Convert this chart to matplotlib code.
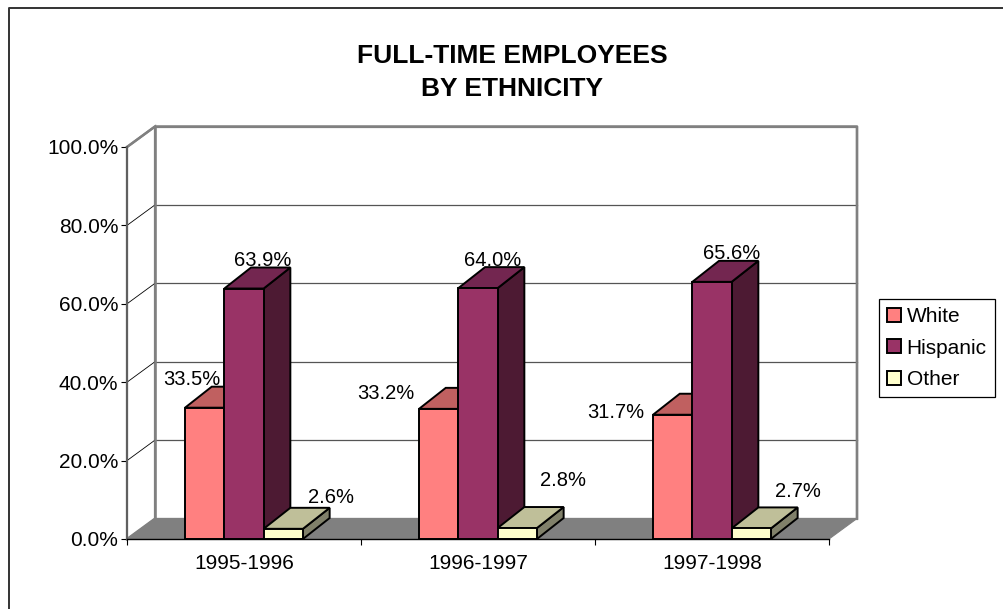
import matplotlib
matplotlib.use("Agg")
import matplotlib.pyplot as plt
from matplotlib.patches import Polygon, Rectangle, Patch
from matplotlib.lines import Line2D
from matplotlib.ticker import FixedLocator, NullFormatter, FixedFormatter

plt.rcParams['font.family'] = ['Liberation Sans', 'DejaVu Sans']

# ---------------- data ----------------
categories = ["1995-1996", "1996-1997", "1997-1998"]
series_names = ["White", "Hispanic", "Other"]
white = [33.5, 33.2, 31.7]
hispanic = [63.9, 64.0, 65.6]
other = [2.6, 2.8, 2.7]
y_ticks = [0, 20, 40, 60, 80, 100]
y_tick_labels = ["0.0%", "20.0%", "40.0%", "60.0%", "80.0%", "100.0%"]
title_lines = ["FULL-TIME EMPLOYEES", "BY ETHNICITY"]

# ---------------- styling ----------------
front_colors = ["#FF8080", "#993366", "#FFFFCC"]
top_colors = ["#C06060", "#732650", "#BFBF99"]
side_colors = ["#804040", "#4D1A33", "#80806A"]
# label offsets in pixels (dx, dy with dy downward) relative to bar back-top centre
label_offsets = [
    [(-40, -9), (-80, 4), (-84, 17)],
    [(-8, -9), (-12, -9), (-7, -9)],
    [(21, -12), (19, -29), (20, -18)],
]

W, H = 1004, 609
fig = plt.figure(figsize=(W / 100, H / 100), dpi=100)
ax = fig.add_axes([127 / W, (H - 539) / H, 702 / W, 392 / H])
ax.set_xlim(0, 3)
ax.set_ylim(0, 100)
ax.set_facecolor('none')

px2x = 3 / 702
px2y = 100 / 392
WDX, WDY = 28 * px2x, 20.5 * px2y   # wall depth
BDX, BDY = 26.7 * px2x, 21 * px2y   # bar depth
bw = 39.3 / 234                     # bar width (category units)

wall_edge = "#808080"
# back wall
ax.add_patch(Polygon([(WDX, WDY), (3 + WDX, WDY), (3 + WDX, 100 + WDY), (WDX, 100 + WDY)],
                     closed=True, facecolor="white", edgecolor=wall_edge, lw=1.6,
                     clip_on=False, zorder=1))
# side wall
ax.add_patch(Polygon([(0, 0), (WDX, WDY), (WDX, 100 + WDY), (0, 100)],
                     closed=True, facecolor="white", edgecolor=wall_edge, lw=1.6,
                     clip_on=False, zorder=1))
# floor
ax.add_patch(Polygon([(0, 0), (3, 0), (3 + WDX, WDY), (WDX, WDY)],
                     closed=True, facecolor="#808080", edgecolor="#808080", lw=0.8,
                     clip_on=False, zorder=2))
# gridlines
for v in y_ticks[1:-1]:
    ax.plot([WDX, 3 + WDX], [v + WDY, v + WDY], color="#555555", lw=0.9,
            clip_on=False, zorder=1.5)
    ax.plot([0, WDX], [v, v + WDY], color="black", lw=0.6, clip_on=False, zorder=1.5)
# redraw back edge lines of walls on top of gridlines
ax.plot([WDX, WDX], [WDY, 100 + WDY], color=wall_edge, lw=1.8, clip_on=False, zorder=1.6)
ax.plot([0, WDX, 3 + WDX, 3 + WDX], [100, 100 + WDY, 100 + WDY, WDY], color=wall_edge,
        lw=1.8, clip_on=False, zorder=1.6)

series = [white, hispanic, other]
for i in range(len(categories)):
    for j, vals in enumerate(series):
        v = vals[i]
        x0 = i + 0.5 + (j - 1) * bw - bw / 2
        z = 3 + i * 3 + j
        ax.add_patch(Polygon([(x0 + bw, 0), (x0 + bw + BDX, BDY), (x0 + bw + BDX, v + BDY), (x0 + bw, v)],
                             closed=True, facecolor=side_colors[j], edgecolor="black",
                             lw=1.4, joinstyle='miter', clip_on=False, zorder=z))
        ax.add_patch(Polygon([(x0, v), (x0 + bw, v), (x0 + bw + BDX, v + BDY), (x0 + BDX, v + BDY)],
                             closed=True, facecolor=top_colors[j], edgecolor="black",
                             lw=1.4, joinstyle='miter', clip_on=False, zorder=z))
        ax.add_patch(Rectangle((x0, 0), bw, v, facecolor=front_colors[j], edgecolor="black",
                               lw=1.4, joinstyle='miter', clip_on=False, zorder=z))
        ox, oy = label_offsets[j][i]
        ax.annotate(f"{v:.1f}%", xy=(x0 + bw / 2 + BDX, v + BDY), xytext=(ox, -oy),
                    textcoords='offset pixels', ha='center', va='center_baseline',
                    fontsize=14.5, color='black', zorder=20, annotation_clip=False)

# axes: spines and ticks
for s in ['top', 'right']:
    ax.spines[s].set_visible(False)
ax.spines['left'].set_color('#606060')
ax.spines['left'].set_linewidth(1.5)
ax.spines['left'].set_zorder(30)
ax.spines['bottom'].set_color('black')
ax.spines['bottom'].set_linewidth(1.0)
ax.spines['bottom'].set_zorder(30)

ax.yaxis.set_major_locator(FixedLocator(y_ticks))
ax.yaxis.set_major_formatter(FixedFormatter(y_tick_labels))
ax.tick_params(axis='y', direction='out', length=4.3, width=0.8, color='black',
               labelsize=15, pad=2)
ax.xaxis.set_major_locator(FixedLocator([0, 1, 2, 3]))
ax.xaxis.set_major_formatter(NullFormatter())
ax.xaxis.set_minor_locator(FixedLocator([0.5, 1.5, 2.5]))
ax.xaxis.set_minor_formatter(FixedFormatter(categories))
ax.tick_params(axis='x', which='major', direction='out', length=4.3, width=0.8, color='black')
ax.tick_params(axis='x', which='minor', length=0, labelsize=15, pad=11)

# title
fig.text(512 / W, 1 - 56 / H, title_lines[0], ha='center', va='center', fontsize=19,
         fontweight='bold')
fig.text(512 / W, 1 - 89 / H, title_lines[1], ha='center', va='center', fontsize=19,
         fontweight='bold')

# legend
handles = [Patch(facecolor=c, edgecolor='black', lw=1.4) for c in front_colors]
leg = fig.legend(handles, series_names, loc='center left',
                 bbox_to_anchor=(879 / W, 1 - 348 / H), fontsize=15,
                 handlelength=0.68, handleheight=0.68, handletextpad=0.25,
                 labelspacing=0.6, borderpad=0.4, borderaxespad=0, fancybox=False,
                 framealpha=1, edgecolor='black')
leg.get_frame().set_linewidth(0.9)

# outer border (left and top)
fig.add_artist(Line2D([9 / W, 9 / W, 1.0], [0.0, 1 - 8 / H, 1 - 8 / H],
                      transform=fig.transFigure, color='#333333', lw=1.4))

fig.savefig("out.png", dpi=100)
